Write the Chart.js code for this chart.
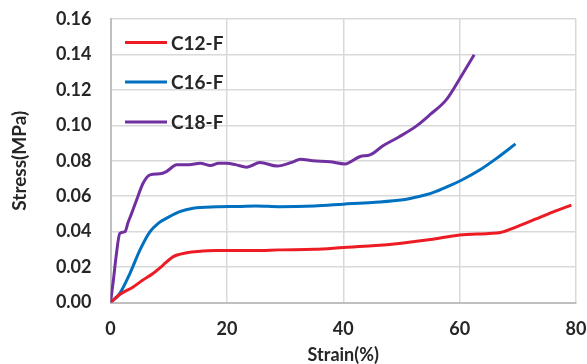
<!DOCTYPE html>
<html><head><meta charset="utf-8">
<script src="https://cdn.jsdelivr.net/npm/chart.js@4/dist/chart.umd.min.js"></script>
<style>html,body{margin:0;padding:0;background:#fff}canvas{display:block}</style>
</head><body>
<canvas id="c" width="587" height="364"></canvas>
<script>
const seriesNames = ["C12-F", "C16-F", "C18-F"];
const seriesColors = ["#ED1C24", "#0070C0", "#7030A0"];

const c12Strain = [0, 1.6, 3.9, 5.5, 7.35, 9.0, 10.8, 12.0, 13.1, 15, 18.2, 22, 25, 29, 35, 40, 45, 50, 55, 60, 65, 67, 70, 73, 76, 79.2];
const c12Stress = [0, 0.0045, 0.0088, 0.0125, 0.0165, 0.021, 0.0259, 0.0273, 0.0281, 0.0288, 0.0293, 0.0293, 0.0293, 0.0297, 0.030, 0.031, 0.032, 0.0335, 0.0355, 0.0381, 0.039, 0.0395, 0.043, 0.047, 0.051, 0.055];

const c16Strain = [0, 1.6, 3.35, 5.07, 6.8, 8.2, 9.65, 11.9, 14.2, 18.2, 22, 25, 29, 35, 40, 45, 50.3, 53, 55.4, 58, 60.3, 63.5, 66.4, 69.6];
const c16Stress = [0, 0.0052, 0.0165, 0.0297, 0.040, 0.0447, 0.0476, 0.0513, 0.0532, 0.054, 0.0542, 0.0545, 0.0541, 0.0545, 0.0555, 0.0565, 0.058, 0.0598, 0.062, 0.0655, 0.069, 0.0749, 0.0815, 0.0895];

const c18Strain = [0, 0.5, 0.96, 1.6, 2.5, 3.0, 3.6, 4.5, 5.6, 6.8, 8.5, 9.6, 11.4, 13.5, 15.4, 17.2, 18.6, 20, 21.5, 23.4, 25.7, 28.6, 31.4, 32.6, 34.8, 37.7, 40.3, 42.9, 44.6, 46.9, 49.7, 52.6, 54.9, 57.8, 60.1, 62.5];
const c18Stress = [0, 0.0127, 0.026, 0.039, 0.040, 0.045, 0.050, 0.058, 0.0673, 0.072, 0.0726, 0.0739, 0.0777, 0.0778, 0.0786, 0.0773, 0.0786, 0.0786, 0.0778, 0.0764, 0.079, 0.077, 0.0794, 0.0809, 0.080, 0.0794, 0.0782, 0.0824, 0.0833, 0.0886, 0.0937, 0.0997, 0.106, 0.1148, 0.1267, 0.1398];

const xTicks = [0, 20, 40, 60, 80];
const yTicks = [0, 0.02, 0.04, 0.06, 0.08, 0.10, 0.12, 0.14, 0.16];

const toPts = (xs, ys) => xs.map((x, i) => ({x: x, y: ys[i]}));
const allX = [c12Strain, c16Strain, c18Strain];
const allY = [c12Stress, c16Stress, c18Stress];

const FONT = "Lato, 'Open Sans', sans-serif";
const TXT = "#262626";

const legendPlugin = {
  id: 'customLegend',
  afterDatasetsDraw(chart) {
    const ctx = chart.ctx;
    ctx.save();
    const x0 = 125, x1 = 167, ys = [42.5, 82, 122];
    chart.data.datasets.forEach((ds, i) => {
      ctx.strokeStyle = ds.borderColor;
      ctx.lineWidth = 3;
      ctx.beginPath();
      ctx.moveTo(x0, ys[i]);
      ctx.lineTo(x1, ys[i]);
      ctx.stroke();
      ctx.fillStyle = TXT;
      ctx.font = "bold 19px " + FONT;
      ctx.textBaseline = 'middle';
      ctx.textAlign = 'left';
      ctx.fillText(ds.label, 171, ys[i] + 1);
    });
    ctx.restore();
  }
};

new Chart(document.getElementById('c'), {
  type: 'scatter',
  data: {
    datasets: seriesNames.map((n, i) => ({
      label: n,
      data: toPts(allX[i], allY[i]),
      showLine: true,
      borderColor: seriesColors[i],
      backgroundColor: seriesColors[i],
      borderWidth: 3,
      pointRadius: 0,
      cubicInterpolationMode: 'monotone'
    }))
  },
  options: {
    responsive: false,
    animation: false,
    layout: {padding: {left: 0, right: 11, top: 19, bottom: 0}},
    plugins: {legend: {display: false}, tooltip: {enabled: false}},
    scales: {
      x: {
        type: 'linear', min: 0, max: 80,
        afterBuildTicks: s => { s.ticks = xTicks.map(v => ({value: v})); },
        afterFit: s => { s.height = 61.5; s.paddingLeft = 0; s.paddingRight = 0; },
        grid: {color: '#d9d9d9', lineWidth: 1.5, drawTicks: false},
        border: {color: '#bfbfbf', width: 2},
        ticks: {color: TXT, font: {family: FONT, size: 18, weight: 'bold'}, padding: 16, maxRotation: 0,
                callback: v => String(v)},
        title: {display: true, text: 'Strain(%)', color: TXT, font: {family: FONT, size: 18, weight: 'bold', lineHeight: 1}, padding: {top: 0, bottom: 0}}
      },
      y: {
        type: 'linear', min: 0, max: 0.16,
        afterBuildTicks: s => { s.ticks = yTicks.map(v => ({value: v})); },
        afterFit: s => { s.width = 110.5; s.paddingTop = 0; s.paddingBottom = 0; },
        grid: {color: '#d9d9d9', lineWidth: 1.5, drawTicks: false},
        border: {color: '#bfbfbf', width: 2},
        ticks: {color: TXT, font: {family: FONT, size: 18, weight: 'bold'}, padding: 19,
                callback: v => Number(v).toFixed(2)},
        title: {display: true, text: 'Stress(MPa)', color: TXT, font: {family: FONT, size: 19, weight: 'bold', lineHeight: 1}, padding: {top: 10, bottom: 0}}
      }
    }
  },
  plugins: [legendPlugin]
});
</script>
</body></html>
